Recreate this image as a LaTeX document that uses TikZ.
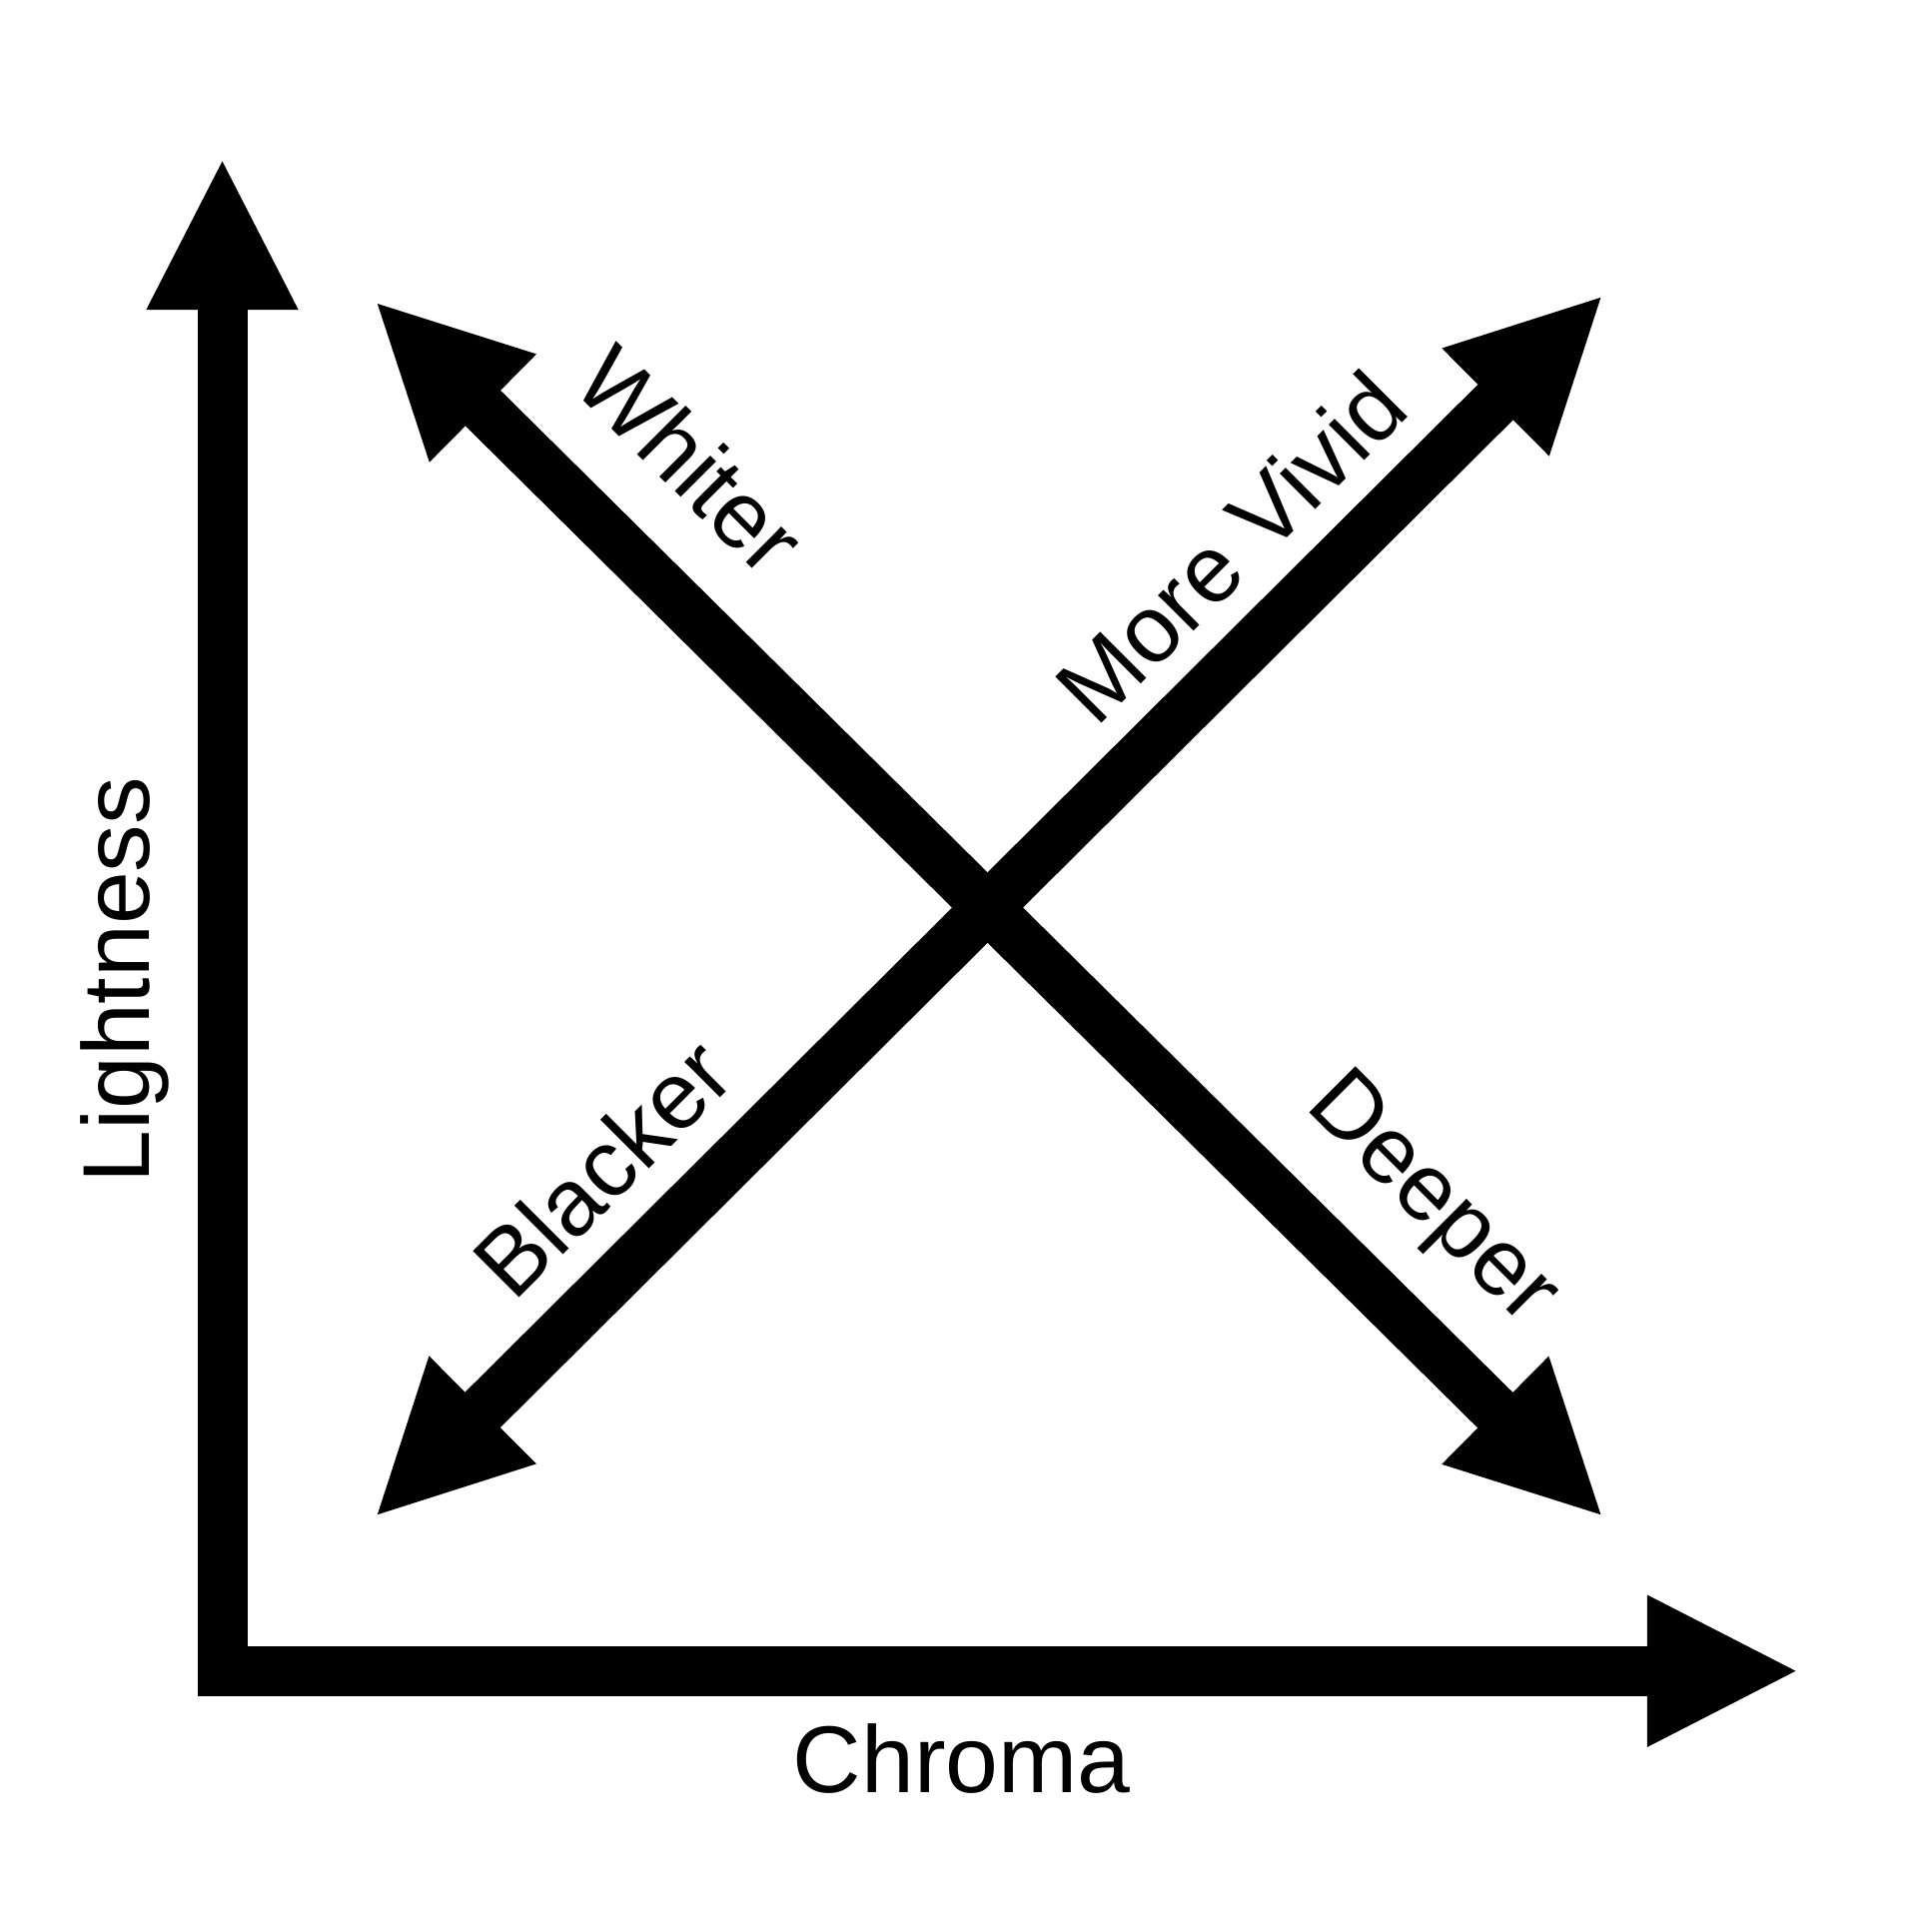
\documentclass[tikz,border=0pt]{standalone}
\usepackage{fontspec}
\setmainfont{Liberation Sans}
\usetikzlibrary{arrows.meta}
\tikzset{
  bigarrow/.style={line width=20pt, -{Triangle[length=61pt,width=56pt]}},
  bothways/.style={line width=20pt, {Triangle[length=61pt,width=56pt]}-{Triangle[length=61pt,width=56pt]}},
  lbl/.style={inner sep=0pt, font=\fontsize{38}{40}\selectfont}
}
\begin{document}
\begin{tikzpicture}[x=0.5pt,y=0.5pt,yscale=-1,xscale=1]
\useasboundingbox (0,0) rectangle (1547,1534);

% Axes
\draw [bigarrow] (178,1357) -- (178,126) ;
\draw [bigarrow] (158,1338) -- (1441,1338) ;

% Diagonals
\draw [bothways] (300,241) -- (1284,1215) ;
\draw [bothways] (300,1215) -- (1284,236) ;

% Text Nodes
\node (light) [lbl, rotate=90] at (100,785) {Lightness};
\node (chroma) [lbl] at (770,1408) {Chroma};
\node (whiter) [lbl, rotate=-45] at (553,368) {Whiter};
\node (vivid) [lbl, rotate=45] at (985,438) {More Vivid};
\node (blacker) [lbl, rotate=45] at (482,935) {Blacker};
\node (deeper) [lbl, rotate=-45] at (1145,962) {Deeper};

\end{tikzpicture}
\end{document}
